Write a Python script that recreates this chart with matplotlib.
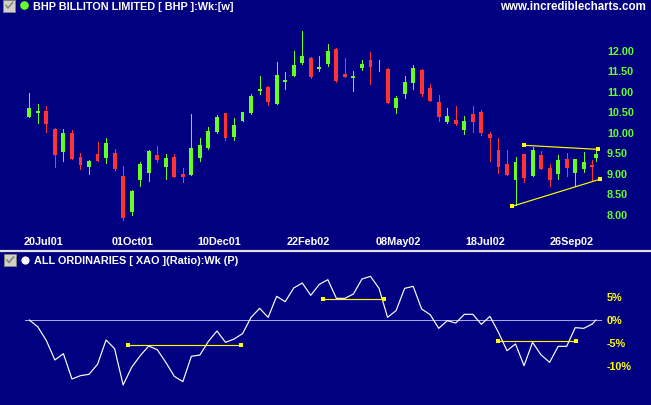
import numpy as np
import pandas as pd
import matplotlib
matplotlib.use('Agg')
import matplotlib.pyplot as plt
import matplotlib.dates as mdates
from matplotlib.patches import Rectangle, Circle
from matplotlib.transforms import blended_transform_factory

# ---------------- data ----------------
bar_dates = list(pd.date_range('2001-07-09', periods=67, freq='7D').strftime('%Y-%m-%d')) + ['2002-10-17']

opens = [10.39, 10.50, 10.54, 10.10, 9.54, 10.00, 9.41, 9.18, 9.49, 9.40,
         9.51, 8.95, 8.08, 8.86, 9.03, 9.46, 9.18, 9.42, 9.00, 8.98,
         9.40, 9.63, 10.02, 10.48, 9.91, 10.29, 10.49, 11.03, 11.12, 10.71,
         11.24, 11.39, 11.71, 11.83, 11.56, 11.68, 12.05, 11.44, 11.34, 11.59,
         11.78, 11.64, 11.56, 10.61, 10.95, 11.22, 11.54, 11.10, 10.76, 10.27,
         10.32, 10.07, 10.46, 10.51, 9.98, 9.59, 9.24, 8.85, 9.49, 8.95,
         9.46, 9.15, 9.00, 9.37, 9.03, 9.12, 9.22, 9.40]
highs = [10.98, 10.71, 10.66, 10.12, 10.10, 10.07, 9.51, 9.34, 9.78, 9.88,
         9.61, 9.20, 8.61, 9.29, 9.59, 9.68, 9.49, 9.49, 9.15, 10.46,
         9.88, 10.15, 10.44, 10.50, 10.37, 10.51, 10.95, 11.39, 11.15, 11.73,
         11.49, 12.00, 12.49, 11.85, 11.88, 12.17, 12.07, 11.83, 11.51, 11.78,
         11.98, 11.78, 11.59, 10.90, 11.39, 11.66, 11.56, 11.20, 10.93, 10.61,
         10.66, 10.41, 10.66, 10.56, 10.02, 9.88, 9.59, 9.41, 9.49, 9.66,
         9.56, 9.24, 9.46, 9.51, 9.37, 9.54, 9.33, 9.56]
lows = [10.39, 10.25, 10.03, 9.18, 9.32, 9.37, 9.13, 9.01, 9.32, 9.28,
        9.10, 7.89, 8.01, 8.71, 8.83, 9.30, 8.88, 8.93, 8.80, 8.98,
        9.32, 9.61, 10.00, 9.84, 9.84, 10.29, 10.46, 10.95, 10.68, 10.71,
        11.07, 11.39, 11.68, 11.34, 11.51, 11.63, 11.24, 11.37, 11.02, 11.54,
        11.20, 11.51, 10.73, 10.49, 10.85, 11.07, 10.90, 10.78, 10.29, 10.24,
        10.20, 9.98, 10.02, 9.95, 9.32, 9.02, 8.98, 8.24, 8.80, 8.95,
        9.12, 8.71, 8.88, 8.95, 8.71, 9.05, 8.83, 9.32]
closes = [10.61, 10.54, 10.22, 9.47, 10.00, 9.37, 9.23, 9.32, 9.32, 9.76,
          9.12, 7.93, 8.59, 9.24, 9.56, 9.35, 9.39, 8.93, 8.93, 9.63,
          9.71, 10.05, 10.39, 9.89, 10.20, 10.51, 10.90, 11.07, 10.76, 11.41,
          11.29, 11.66, 11.88, 11.37, 11.61, 12.00, 11.27, 11.37, 11.39, 11.68,
          11.61, 11.64, 10.73, 10.85, 11.24, 11.59, 10.95, 10.78, 10.39, 10.41,
          10.22, 10.29, 10.27, 10.00, 9.88, 9.17, 8.98, 9.29, 8.90, 9.59,
          9.12, 8.85, 9.34, 9.15, 9.37, 9.29, 9.17, 9.50]

ratio_pct = [0.0, -1.5, -4.5, -8.73, -7.35, -12.88, -12.15, -11.86, -9.68, -4.37,
             -6.26, -14.19, -10.33, -7.79, -5.68, -6.48, -9.24, -12.30, -13.46, -7.93,
             -7.64, -4.66, -2.40, -4.88, -4.15, -2.98, 0.58, 2.55, 0.58, 5.17,
             4.00, 6.99, 8.08, 5.39, 7.79, 8.80, 4.73, 4.73, 5.68, 8.95,
             9.53, 6.91, 0.58, 2.04, 6.91, 7.35, 2.40, 1.16, -1.82, -0.15,
             -0.66, 1.24, 1.24, -0.95, 0.80, -2.69, -6.70, -5.24, -9.97, -4.88,
             -7.64, -9.24, -5.75, -5.75, -1.67, -1.82, -0.87, 0.0]

date_labels = ['20Jul01', '01Oct01', '10Dec01', '22Feb02', '08May02', '18Jul02', '26Sep02']
date_label_dates = ['2001-07-21', '2001-10-02', '2001-12-12', '2002-02-23', '2002-05-08', '2002-07-18', '2002-09-27']
price_ticks = [8.00, 8.50, 9.00, 9.50, 10.00, 10.50, 11.00, 11.50, 12.00]
pct_ticks = [5, 0, -5, -10]
pct_labels = ['5%', '0%', '-5%', '-10%']

# triangle trend lines (top panel)
tri_upper_dates = ['2002-08-19', '2002-10-19']
tri_upper_vals = [9.70, 9.60]
tri_lower_dates = ['2002-08-09', '2002-10-20']
tri_lower_vals = [8.21, 8.87]

# horizontal lines (ratio panel)
rs_line_dates = [['2001-09-28', '2001-12-30'], ['2002-03-07', '2002-04-26'], ['2002-07-29', '2002-10-01']]
rs_line_vals = [-5.52, 4.52, -4.65]

# ---------------- style ----------------
W, H = 651, 406
BG = '#000080'
UP = '#66ff22'
DN = '#ff3333'
YEL = '#ffff00'
FONT = 'Liberation Sans'
PX = 0.72  # one pixel in points

fig = plt.figure(figsize=(W / 100, H / 100), dpi=100, facecolor=BG)

x = mdates.date2num(pd.to_datetime(bar_dates))
o = np.array(opens); h = np.array(highs); l = np.array(lows); c = np.array(closes)
cols = [UP if cc >= oo else DN for oo, cc in zip(o, c)]

x0 = mdates.date2num(pd.Timestamp('2001-07-09'))
px_per_day = 8.53 / 7.0
xlim = (x0 - 29.3 / px_per_day, x0 + (W - 29.3) / px_per_day)

# top panel: pixel rows 0..250
ax1 = fig.add_axes([0, 156 / H, 1, 250 / H])
ax1.set_facecolor(BG)
ax1.set_xlim(*xlim)
ax1.set_ylim(12 - 198 / 41, 12 + 52 / 41)
ax1.axis('off')
ax1.vlines(x, l, h, colors=cols, linewidth=PX, antialiased=False)
ax1.bar(x, np.abs(c - o), bottom=np.minimum(o, c), width=3.2, color=cols,
        linewidth=0, antialiased=False)

for dts, vals in [(tri_upper_dates, tri_upper_vals), (tri_lower_dates, tri_lower_vals)]:
    ax1.plot(mdates.date2num(pd.to_datetime(dts)), vals, color=YEL, lw=0.85,
             marker='s', markersize=3.2, markeredgewidth=0)

tr1 = blended_transform_factory(ax1.transAxes, ax1.transData)
for p in price_ticks:
    ax1.text(607 / W, p, f'{p:.2f}', transform=tr1, color=UP, fontsize=7.8,
             fontweight='bold', family=FONT, ha='left', va='center')
trx = blended_transform_factory(ax1.transData, ax1.transAxes)
for lab, d in zip(date_labels, date_label_dates):
    ax1.text(mdates.date2num(pd.Timestamp(d)), 1 - 241.7 / 250, lab, transform=trx,
             color='white', fontsize=7.8, fontweight='bold', family=FONT,
             ha='center', va='center')

# bottom panel: pixel rows 253..406
ax2 = fig.add_axes([0, 0, 1, 153 / H])
ax2.set_facecolor(BG)
ax2.set_xlim(*xlim)
ax2.set_ylim(-(406 - 321) / 4.58, (321 - 253) / 4.58)
ax2.axis('off')
ax2.plot([x[0] - 3.5, x[-2] + 7.5], [0, 0], color='#a8a8e8', lw=PX, antialiased=False)
ax2.plot(x, ratio_pct, color='white', lw=0.85)
for dts, v in zip(rs_line_dates, rs_line_vals):
    ax2.plot(mdates.date2num(pd.to_datetime(dts)), [v, v], color=YEL, lw=0.85,
             marker='s', markersize=3.2, markeredgewidth=0)
tr2 = blended_transform_factory(ax2.transAxes, ax2.transData)
for p, lab in zip(pct_ticks, pct_labels):
    ax2.text(607 / W, p, lab, transform=tr2, color=YEL, fontsize=7.8,
             fontweight='bold', family=FONT, ha='left', va='center')

# overlay in pixel coordinates for decorations
ov = fig.add_axes([0, 0, 1, 1], zorder=10)
ov.set_xlim(0, W); ov.set_ylim(H, 0); ov.axis('off')
ov.patch.set_alpha(0)
ov.plot([0, W], [251.5, 251.5], color='#e0e0e0', lw=1.6, solid_capstyle='butt')


def checkbox(x0_, y0_):
    ov.add_patch(Rectangle((x0_, y0_), 12, 12, facecolor='#d4d0c8', edgecolor='#808080', lw=0.7))
    ov.plot([x0_ + 3, x0_ + 5, x0_ + 9.5], [y0_ + 6, y0_ + 8.5, y0_ + 3], color='#808080', lw=1.1)


checkbox(3, 0.5)
checkbox(4, 255)
ov.add_patch(Circle((24.5, 6.5), 3.6, color=UP))
ov.add_patch(Circle((25.5, 261.5), 3.4, color='white'))
ov.text(33, 7, 'BHP BILLITON LIMITED [ BHP ]:Wk:[w]', color='white', fontsize=7.8,
        fontweight='bold', family=FONT, ha='left', va='center')
ov.text(646, 7, 'www.incrediblecharts.com', color='white', fontsize=8.3,
        fontweight='bold', family=FONT, ha='right', va='center')
ov.text(34, 261.5, 'ALL ORDINARIES [ XAO ](Ratio):Wk (P)', color='white', fontsize=7.8,
        fontweight='bold', family=FONT, ha='left', va='center')

fig.savefig('out.png', dpi=100, facecolor=BG)
